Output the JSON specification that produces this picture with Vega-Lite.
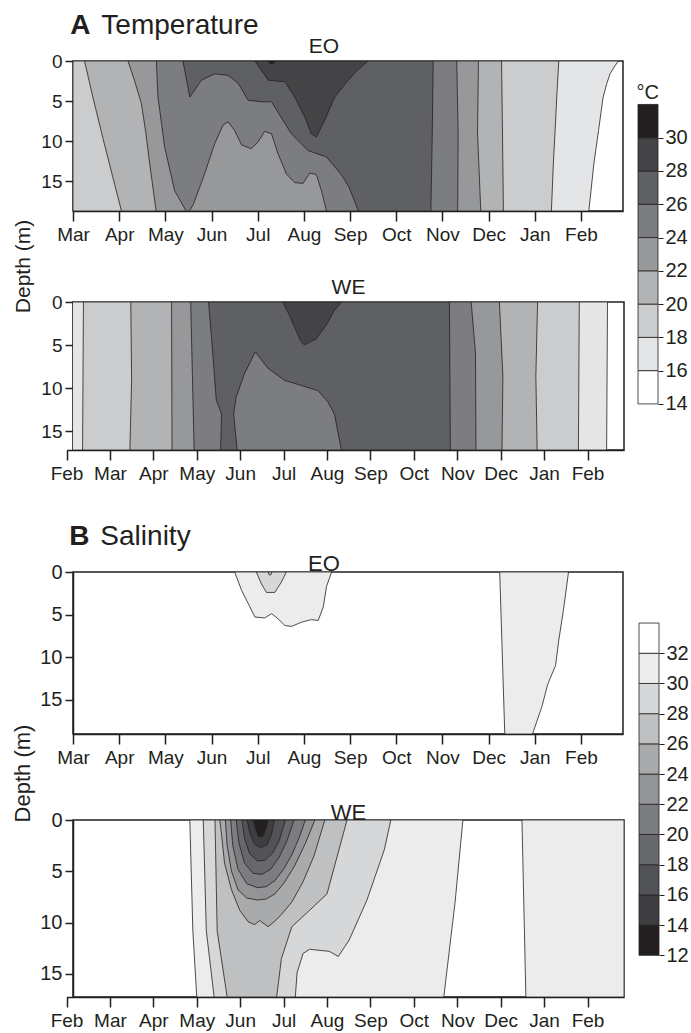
{
 "$schema": "https://vega.github.io/schema/vega-lite/v6.json",
 "padding": {"left": 10, "top": 12, "right": 5, "bottom": 3},
 "background": "white",
 "config": {
  "font": "Liberation Sans",
  "view": {"stroke": "#231f20", "strokeWidth": 1.5},
  "axis": {"grid": false, "domainColor": "#231f20", "domainWidth": 1.5, "tickColor": "#231f20", "tickWidth": 1.5, "labelColor": "#231f20", "labelFont": "Liberation Sans", "titleFont": "Liberation Sans", "titleFontWeight": "normal", "titleColor": "#231f20"},
  "title": {"font": "Liberation Sans", "color": "#231f20", "fontWeight": "normal"}
 },
 "datasets": {
  "polys": [
   {"p": "AEO", "g": 1, "lev": 16, "m": [1,12.81,12.72,12.63,12.56,12.48,12.38,12.28,12.17,1,1], "d": [0,0,0.75,1.6,2.8,4.5,8.7,12.8,18.75,18.75,0]},
   {"p": "AEO", "g": 2, "lev": 18, "m": [1,11.52,11.48,11.44,11.40,11.36,1,1], "d": [0,0,4,8.7,13,18.75,18.75,0]},
   {"p": "AEO", "g": 3, "lev": 20, "m": [1.25,10.28,10.30,10.32,2.05,1.87,1.65,1.43,1.25], "d": [0,0,9,18.75,18.75,14.7,9.7,4.5,0]},
   {"p": "AEO", "g": 4, "lev": 22, "m": [2.19,9.78,9.76,9.83,2.80,2.66,2.57,2.48,2.33,2.19], "d": [0,0,9,18.75,18.75,12.8,8.7,5.3,2.4,0]},
   {"p": "AEO", "g": 5, "lev": 24, "m": [2.805,9.31,9.34,9.33,6.49,6.38,6.27,6.13,5.98,5.80,5.62,5.44,5.30,5.15,5.01,4.86,4.65,4.50,4.36,4.25,4.07,3.85,3.60,3.52,3.45,3.20,2.985,2.84,2.805], "d": [0,0,9,18.75,18.75,16.2,14.2,14.0,15.3,15.2,14.1,11.6,9.1,8.8,10.1,10.95,10.5,8.7,7.6,8.0,10.3,14.1,18.0,18.75,18.75,16.2,10.75,4.5,0]},
   {"p": "AEO", "g": 6, "lev": 26, "m": [3.38,8.80,8.78,8.75,7.18,6.98,6.81,6.49,6.09,5.73,5.48,5.30,5.08,4.79,4.58,4.36,4.07,3.78,3.53,3.38], "d": [0,0,9,18.75,18.75,15.8,14.2,12.0,11.2,9.1,6.8,5.1,5.1,4.9,2.8,1.8,1.6,2.4,4.5,0]},
   {"p": "AEO", "g": 7, "lev": 28, "m": [4.94,5.23,5.59,5.80,6.02,6.16,6.27,6.45,6.67,6.9,7.15,7.39,4.94], "d": [0,2.4,2.6,4.5,7.0,9.1,9.5,7.4,4.5,2.8,1.2,0,0]},
   {"p": "AEO", "g": 8, "lev": 30, "m": [5.22,5.38,5.33,5.27,5.22], "d": [0,0,0.35,0.35,0]},
   {"p": "AWE", "g": 9, "lev": 16, "m": [0,12.46,12.45,12.44,0,0], "d": [0,0,8.6,17.2,17.2,0]},
   {"p": "AWE", "g": 10, "lev": 18, "m": [0.39,11.81,11.80,11.79,0.37,0.39], "d": [0,0,8.6,17.2,17.2,0]},
   {"p": "AWE", "g": 11, "lev": 20, "m": [1.48,10.85,10.81,10.84,1.46,1.50,1.48], "d": [0,0,8.6,17.2,17.2,9,0]},
   {"p": "AWE", "g": 12, "lev": 22, "m": [2.42,9.97,10.05,10.03,2.43,2.42], "d": [0,0,8.6,17.2,17.2,0]},
   {"p": "AWE", "g": 13, "lev": 24, "m": [2.86,9.32,9.42,9.43,2.94,2.86], "d": [0,0,6,17.2,17.2,0]},
   {"p": "AWE", "g": 14, "lev": 26, "m": [3.27,8.82,8.84,6.33,6.17,6.02,5.79,5.41,5.02,4.64,4.35,4.10,3.91,3.85,3.93,3.55,3.57,3.45,3.34,3.27], "d": [0,0,17.2,17.2,13.0,11.6,10.3,9.7,9.1,7.7,5.8,8.3,11.0,13.0,17.2,17.2,13.0,11.4,4.1,0]},
   {"p": "AWE", "g": 15, "lev": 28, "m": [4.98,5.10,5.25,5.40,5.48,5.62,5.75,5.98,6.17,6.33,4.98], "d": [0,1.2,2.9,4.6,5.0,4.6,4.3,2.7,1.0,0,0]},
   {"p": "BEO", "g": 16, "lev": 30, "m": [4.50,4.65,4.83,4.94,5.15,5.30,5.44,5.59,5.73,5.95,6.16,6.31,6.42,6.49,6.60,4.50], "d": [0,2.15,4.1,5.3,5.4,4.9,5.5,6.3,6.4,5.9,5.6,5.7,4.1,1.7,0,0]},
   {"p": "BEO", "g": 17, "lev": 30, "m": [10.24,11.73,11.62,11.52,11.45,11.28,11.15,10.95,10.35,10.24], "d": [0,0,4.5,8.0,11,13.2,15.9,19.05,19.05,0]},
   {"p": "BEO", "g": 18, "lev": 28, "m": [4.97,5.08,5.19,5.37,5.51,5.62,4.97], "d": [0,1.4,2.4,2.4,1.2,0,0]},
   {"p": "BEO", "g": 19, "lev": 26, "m": [5.22,5.31,5.28,5.25,5.22], "d": [0,0,0.35,0.35,0]},
   {"p": "BWE", "g": 20, "lev": 30, "m": [2.84,9.13,8.95,8.69,3.0,2.91,2.84], "d": [0,0,8,17.25,17.25,10.8,0]},
   {"p": "BWE", "g": 21, "lev": 30, "m": [10.49,12.84,12.84,10.58,10.49], "d": [0,0,17.25,17.25,0]},
   {"p": "BWE", "g": 22, "lev": 28, "m": [3.15,7.47,7.32,6.92,6.51,6.26,6.05,5.60,5.45,5.31,5.27,3.40,3.22,3.15], "d": [0,0,2.9,7.8,11.7,13.3,12.8,12.6,13.0,14.9,17.25,17.25,10.8,0]},
   {"p": "BWE", "g": 23, "lev": 26, "m": [3.42,6.46,6.0,5.60,5.19,4.95,4.84,3.70,3.47,3.42], "d": [0,0,7.2,8.8,10.4,13.5,17.25,17.25,10.8,0]},
   {"p": "BWE", "g": 24, "lev": 24, "m": [3.53,3.56,3.64,3.80,3.99,4.18,4.33,4.45,4.64,4.79,4.95,5.19,5.45,5.70,5.95,3.53], "d": [0,1.0,4.2,6.8,8.8,9.9,10.2,9.8,10.4,9.9,9.2,8.0,6.0,3.5,0,0]},
   {"p": "BWE", "g": 25, "lev": 22, "m": [3.66,3.70,3.80,3.95,4.15,4.40,4.60,4.80,5.00,5.25,5.50,5.72,3.66], "d": [0,2.5,5.0,6.8,7.6,7.8,7.7,7.2,6.2,4.5,2.3,0,0]},
   {"p": "BWE", "g": 26, "lev": 20, "m": [3.78,3.83,3.95,4.15,4.40,4.60,4.80,5.00,5.20,5.38,5.50,3.78], "d": [0,2.5,4.8,6.2,6.6,6.5,5.9,4.8,3.3,1.5,0,0]},
   {"p": "BWE", "g": 27, "lev": 18, "m": [3.91,3.97,4.10,4.30,4.50,4.70,4.90,5.08,5.24,3.91], "d": [0,2.2,4.2,5.2,5.3,4.8,3.6,2.0,0,0]},
   {"p": "BWE", "g": 28, "lev": 16, "m": [4.04,4.10,4.22,4.40,4.58,4.75,4.90,5.04,4.04], "d": [0,1.8,3.3,4.0,3.9,3.2,2.0,0,0]},
   {"p": "BWE", "g": 29, "lev": 14, "m": [4.16,4.22,4.32,4.47,4.62,4.72,4.79,4.16], "d": [0,1.2,2.3,2.7,2.4,1.4,0,0]},
   {"p": "BWE", "g": 30, "lev": 12, "m": [4.30,4.36,4.42,4.52,4.60,4.64,4.30], "d": [0,0.9,1.6,1.6,0.8,0,0]}
  ],
  "cbA": [
   {"lo": 14, "hi": 16}, {"lo": 16, "hi": 18}, {"lo": 18, "hi": 20}, {"lo": 20, "hi": 22}, {"lo": 22, "hi": 24},
   {"lo": 24, "hi": 26}, {"lo": 26, "hi": 28}, {"lo": 28, "hi": 30}, {"lo": 30, "hi": 32}
  ],
  "cbB": [
   {"lo": 12, "hi": 14}, {"lo": 14, "hi": 16}, {"lo": 16, "hi": 18}, {"lo": 18, "hi": 20}, {"lo": 20, "hi": 22},
   {"lo": 22, "hi": 24}, {"lo": 24, "hi": 26}, {"lo": 26, "hi": 28}, {"lo": 28, "hi": 30}, {"lo": 30, "hi": 32}, {"lo": 32, "hi": 34}
  ]
 },
 "spacing": 39,
 "resolve": {"scale": {"fill": "independent"}},
 "vconcat": [
  {
   "title": {"text": "A", "subtitle": "\u200b\u00a0\u00a0\u00a0\u00a0Temperature", "anchor": "start", "fontSize": 28, "fontWeight": "bold", "subtitleFontSize": 28, "subtitleFont": "Liberation Sans", "subtitleColor": "#231f20", "subtitlePadding": -28, "offset": -5, "dx": 59},
   "spacing": 4,
   "hconcat": [
    {
     "bounds": "flush",
     "spacing": 91,
     "vconcat": [
      {
       "title": {"text": "EO", "fontSize": 21, "offset": -5, "dx": -24},
       "width": 550, "height": 150,
       "data": {"name": "polys"},
       "transform": [{"filter": "datum.p == 'AEO'"}, {"flatten": ["m", "d"]}],
       "mark": {"type": "line", "stroke": "#231f20", "strokeWidth": 0.8, "clip": true, "strokeJoin": "round"},
       "encoding": {
        "x": {"field": "m", "type": "quantitative", "scale": {"domain": [1, 12.91], "nice": false, "zero": false},
              "axis": {"values": [1,2,3,4,5,6,7,8,9,10,11,12], "labelExpr": "['Feb','Mar','Apr','May','Jun','Jul','Aug','Sep','Oct','Nov','Dec','Jan','Feb'][datum.value]", "title": null, "tickSize": 10, "labelPadding": 4, "labelFontSize": 19, "labelFlush": false, "labelOverlap": false}},
        "y": {"field": "d", "type": "quantitative", "scale": {"domain": [0, 18.75], "reverse": true, "nice": false, "zero": false},
              "axis": {"values": [0,5,10,15], "title": "Depth (m)", "tickSize": 8, "labelPadding": 3, "labelFontSize": 19, "titleFontSize": 21, "titleX": -44, "titleY": 205, "titleAngle": 270, "titleAlign": "center", "titleBaseline": "alphabetic"}},
        "detail": {"field": "g", "type": "nominal"},
        "order": {"value": null},
        "fill": {"field": "lev", "type": "ordinal", "legend": null, "scale": {"domain": [14,16,18,20,22,24,26,28,30], "range": ["#ffffff","#e4e5e6","#cbcccd","#b2b3b5","#97989a","#7c7d80","#5f6064","#444447","#231f20"]}}
       }
      },
      {
       "title": {"text": "WE", "fontSize": 21, "offset": -5},
       "width": 551, "height": 148,
       "data": {"name": "polys"},
       "transform": [{"filter": "datum.p == 'AWE'"}, {"flatten": ["m", "d"]}],
       "mark": {"type": "line", "stroke": "#231f20", "strokeWidth": 0.8, "clip": true, "strokeJoin": "round"},
       "encoding": {
        "x": {"field": "m", "type": "quantitative", "scale": {"domain": [0, 12.84], "range": [-6.5, 551], "nice": false, "zero": false},
              "axis": {"values": [0,1,2,3,4,5,6,7,8,9,10,11,12], "labelExpr": "['Feb','Mar','Apr','May','Jun','Jul','Aug','Sep','Oct','Nov','Dec','Jan','Feb'][datum.value]", "title": null, "tickSize": 10, "labelPadding": 4, "labelFontSize": 19, "labelFlush": false, "labelOverlap": false}},
        "y": {"field": "d", "type": "quantitative", "scale": {"domain": [0, 17.2], "reverse": true, "nice": false, "zero": false},
              "axis": {"values": [0,5,10,15], "title": null, "tickSize": 8, "labelPadding": 3, "labelFontSize": 19}},
        "detail": {"field": "g", "type": "nominal"},
        "order": {"value": null},
        "fill": {"field": "lev", "type": "ordinal", "legend": null, "scale": {"domain": [14,16,18,20,22,24,26,28,30], "range": ["#ffffff","#e4e5e6","#cbcccd","#b2b3b5","#97989a","#7c7d80","#5f6064","#444447","#231f20"]}}
       }
      }
     ]
    },
    {
     "width": 20, "height": 390,
     "view": {"stroke": null},
     "data": {"name": "cbA"},
     "mark": {"type": "rect", "stroke": "#231f20", "strokeWidth": 0.8},
     "encoding": {
      "y": {"field": "lo", "type": "quantitative", "scale": {"domain": [11.17, 34.61], "nice": false, "zero": false},
            "axis": {"orient": "right", "values": [14,16,18,20,22,24,26,28,30], "domain": false, "tickSize": 5, "tickWidth": 1, "labelFontSize": 20, "labelPadding": 2, "title": "°C", "titleAngle": 0, "titleX": -22, "titleY": 37, "titleAlign": "left", "titleBaseline": "alphabetic", "titleFontSize": 20}},
      "y2": {"field": "hi"},
      "fill": {"field": "lo", "type": "ordinal", "legend": null, "scale": {"domain": [14,16,18,20,22,24,26,28,30], "range": ["#ffffff","#e4e5e6","#cbcccd","#b2b3b5","#97989a","#7c7d80","#5f6064","#444447","#231f20"]}}
     }
    }
   ]
  },
  {
   "title": {"text": "B", "subtitle": "\u200b\u00a0\u00a0\u00a0\u00a0Salinity", "anchor": "start", "fontSize": 28, "fontWeight": "bold", "subtitleFontSize": 28, "subtitleFont": "Liberation Sans", "subtitleColor": "#231f20", "subtitlePadding": -28, "offset": 1, "dx": 59},
   "spacing": 6,
   "hconcat": [
    {
     "bounds": "flush",
     "spacing": 86,
     "vconcat": [
      {
       "title": {"text": "EO", "fontSize": 22, "offset": -14, "dx": -24},
       "width": 550, "height": 162,
       "data": {"name": "polys"},
       "transform": [{"filter": "datum.p == 'BEO'"}, {"flatten": ["m", "d"]}],
       "mark": {"type": "line", "stroke": "#231f20", "strokeWidth": 0.8, "clip": true, "strokeJoin": "round"},
       "encoding": {
        "x": {"field": "m", "type": "quantitative", "scale": {"domain": [1, 12.91], "nice": false, "zero": false},
              "axis": {"values": [1,2,3,4,5,6,7,8,9,10,11,12], "labelExpr": "['Feb','Mar','Apr','May','Jun','Jul','Aug','Sep','Oct','Nov','Dec','Jan','Feb'][datum.value]", "title": null, "tickSize": 10, "labelPadding": 4, "labelFontSize": 19, "labelFlush": false, "labelOverlap": false}},
        "y": {"field": "d", "type": "quantitative", "scale": {"domain": [0, 19.05], "reverse": true, "nice": false, "zero": false},
              "axis": {"values": [0,5,10,15], "title": "Depth (m)", "tickSize": 8, "labelPadding": 3, "labelFontSize": 20, "titleFontSize": 22, "titleX": -44, "titleY": 201, "titleAngle": 270, "titleAlign": "center", "titleBaseline": "alphabetic"}},
        "detail": {"field": "g", "type": "nominal"},
        "order": {"value": null},
        "fill": {"field": "lev", "type": "ordinal", "legend": null, "scale": {"domain": [12,14,16,18,20,22,24,26,28,30,32], "range": ["#231f20","#3e3e41","#525356","#67686b","#7c7d80","#939496","#a9aaac","#bfc0c2","#d6d7d8","#ececec","#ffffff"]}}
       }
      },
      {
       "title": {"text": "WE", "fontSize": 22, "offset": -15},
       "width": 551, "height": 177,
       "data": {"name": "polys"},
       "transform": [{"filter": "datum.p == 'BWE'"}, {"flatten": ["m", "d"]}],
       "mark": {"type": "line", "stroke": "#231f20", "strokeWidth": 0.8, "clip": true, "strokeJoin": "round"},
       "encoding": {
        "x": {"field": "m", "type": "quantitative", "scale": {"domain": [0, 12.84], "range": [-6.5, 551], "nice": false, "zero": false},
              "axis": {"values": [0,1,2,3,4,5,6,7,8,9,10,11,12], "labelExpr": "['Feb','Mar','Apr','May','Jun','Jul','Aug','Sep','Oct','Nov','Dec','Jan','Feb'][datum.value]", "title": null, "tickSize": 10, "labelPadding": 4, "labelFontSize": 19, "labelFlush": false, "labelOverlap": false}},
        "y": {"field": "d", "type": "quantitative", "scale": {"domain": [0, 17.25], "reverse": true, "nice": false, "zero": false},
              "axis": {"values": [0,5,10,15], "title": null, "tickSize": 8, "labelPadding": 3, "labelFontSize": 20}},
        "detail": {"field": "g", "type": "nominal"},
        "order": {"value": null},
        "fill": {"field": "lev", "type": "ordinal", "legend": null, "scale": {"domain": [12,14,16,18,20,22,24,26,28,30,32], "range": ["#231f20","#3e3e41","#525356","#67686b","#7c7d80","#939496","#a9aaac","#bfc0c2","#d6d7d8","#ececec","#ffffff"]}}
       }
      }
     ]
    },
    {
     "width": 20, "height": 420,
     "view": {"stroke": null},
     "data": {"name": "cbB"},
     "mark": {"type": "rect", "stroke": "#231f20", "strokeWidth": 0.8},
     "encoding": {
      "y": {"field": "lo", "type": "quantitative", "scale": {"domain": [9.57, 37.38], "nice": false, "zero": false},
            "axis": {"orient": "right", "values": [12,14,16,18,20,22,24,26,28,30,32], "domain": false, "tickSize": 5, "tickWidth": 1, "labelFontSize": 20, "labelPadding": 2, "title": null}},
      "y2": {"field": "hi"},
      "fill": {"field": "lo", "type": "ordinal", "legend": null, "scale": {"domain": [12,14,16,18,20,22,24,26,28,30,32], "range": ["#231f20","#3e3e41","#525356","#67686b","#7c7d80","#939496","#a9aaac","#bfc0c2","#d6d7d8","#ececec","#ffffff"]}}
     }
    }
   ]
  }
 ]
}
